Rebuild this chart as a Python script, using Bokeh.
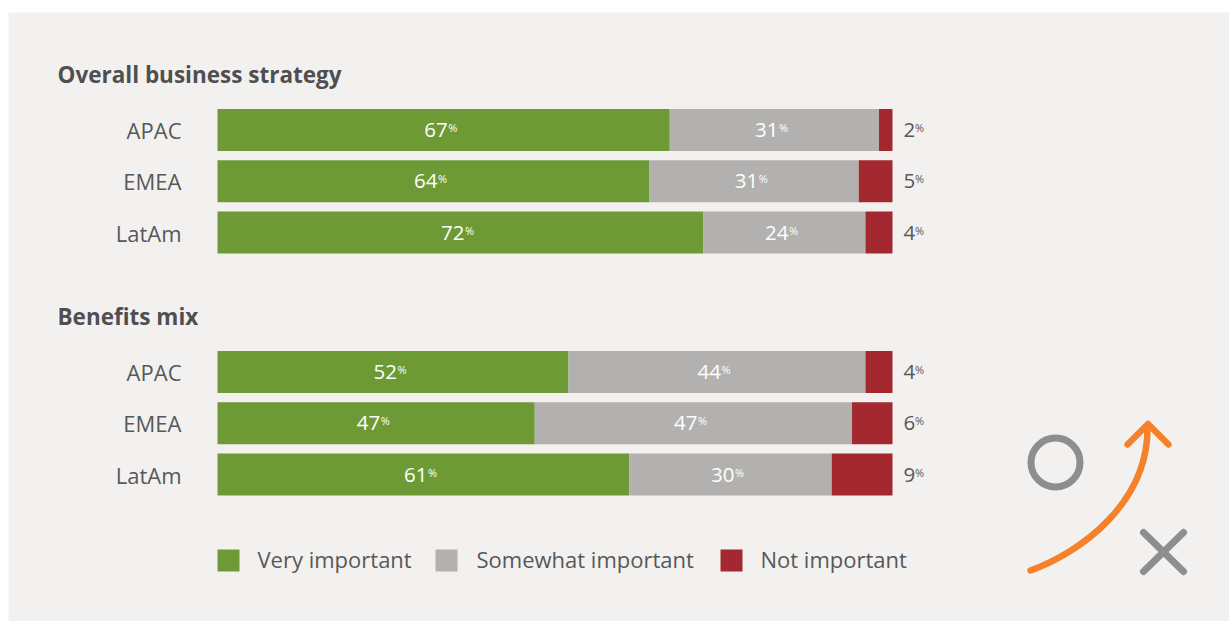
from bokeh.plotting import figure
from bokeh.models import Range1d, ColumnDataSource
from bokeh.core.properties import value
from bokeh.embed import file_html
from bokeh.resources import INLINE
import numpy as np

# ---------------- data ----------------
regions = ["APAC", "EMEA", "LatAm"]
group_titles = ["Overall business strategy", "Benefits mix"]
series_names = ["Very important", "Somewhat important", "Not important"]
strategy_very = [67, 64, 72]
strategy_somewhat = [31, 31, 24]
strategy_not = [2, 5, 4]
benefits_very = [52, 47, 61]
benefits_somewhat = [44, 47, 30]
benefits_not = [4, 6, 9]

groups = [
    (strategy_very, strategy_somewhat, strategy_not),
    (benefits_very, benefits_somewhat, benefits_not),
]

# ---------------- style ----------------
W, H = 1229, 621
PANEL_LEFT, PANEL_TOP = 8, 12
BAR_X0, BAR_X1 = 217, 892          # page px for 0% and 100%
SCALE = (BAR_X1 - BAR_X0) / 100.0
colors = ["#6e9a35", "#b2b1af", "#a3282f"]
bg = "#f2f1ef"
text_dark = "#58585a"
title_col = "#4f4f52"
FONT = value("Open Sans")


def px_x(v):
    return (v - BAR_X0) / SCALE


p = figure(width=W, height=H, output_backend="svg", toolbar_location=None,
           x_range=Range1d(px_x(PANEL_LEFT), px_x(W)),
           y_range=Range1d(H, PANEL_TOP),
           min_border_left=PANEL_LEFT, min_border_top=PANEL_TOP,
           min_border_right=0, min_border_bottom=0)
p.axis.visible = False
p.grid.visible = False
p.outline_line_color = None
p.background_fill_color = bg
p.border_fill_color = "white"

GROUP_TOP = [74, 316]
ROW_START = 55.5
ROW_PITCH = 51.25
BAR_H = 42

for g, (very, some, notimp) in enumerate(groups):
    ty = GROUP_TOP[g]
    p.text(x=[px_x(57)], y=[ty], text=[group_titles[g]], text_font=FONT,
           text_font_size="22.5px", text_font_style="bold", text_color=title_col,
           text_align="left", text_baseline="middle")
    ys = [ty + ROW_START + i * ROW_PITCH for i in range(len(regions))]
    v = np.array(very); s = np.array(some); n = np.array(notimp)
    lefts = [np.zeros(3), v, v + s]
    rights = [v, v + s, v + s + n]
    for k in range(3):
        src = ColumnDataSource(dict(y=ys, left=lefts[k], right=rights[k]))
        p.hbar(y="y", left="left", right="right", height=BAR_H, source=src,
               fill_color=colors[k], line_color=None)
    # category labels
    p.text(x=[px_x(181)] * 3, y=ys, text=regions, text_font=FONT,
           text_font_size="22px", text_color=text_dark,
           text_align="right", text_baseline="middle")
    # inside labels (green & gray)
    for k, vals in enumerate([v, s]):
        centers = (lefts[k] + rights[k]) / 2.0
        p.text(x=centers, y=ys, text=[str(x) for x in vals],
               text_font=FONT, text_font_size="20.5px", text_color="white",
               text_align="right", text_baseline="middle", x_offset=4)
        p.text(x=centers, y=ys, text=["%"] * 3, text_font=FONT,
               text_font_size="11px", text_color="white",
               text_align="left", text_baseline="top", x_offset=4.5, y_offset=-10)
    # outside labels (not important)
    p.text(x=[px_x(903)] * 3, y=ys, text=[str(x) for x in n],
           text_font=FONT, text_font_size="20.5px", text_color=text_dark,
           text_align="left", text_baseline="middle")
    p.text(x=[px_x(903)] * 3, y=ys, text=["%"] * 3, text_font=FONT,
           text_font_size="11px", text_color=text_dark,
           text_align="left", text_baseline="top", x_offset=11.5, y_offset=-10)

# legend
leg_sq_x = [228, 446, 731]
leg_tx_x = [257, 476, 760]
LEG_Y = 560
p.scatter(x=[px_x(v) for v in leg_sq_x], y=[LEG_Y] * 3, marker="square",
          size=22, fill_color=colors, line_color=None)
p.text(x=[px_x(v) for v in leg_tx_x], y=[LEG_Y - 1.5] * 3, text=series_names,
       text_font=FONT, text_font_size="22px", text_color=text_dark,
       text_align="left", text_baseline="middle")

# decorative icon
icon_gray = "#8e8e90"
orange = "#f5822a"
p.scatter(x=[px_x(1055)], y=[462], marker="circle", size=49,
          fill_alpha=0, line_color=icon_gray, line_width=7)
for (xa, ya, xb, yb) in [(1143, 532, 1183, 571), (1183, 532, 1143, 571)]:
    p.line(x=[px_x(xa), px_x(xb)], y=[ya, yb], line_color=icon_gray,
           line_width=7, line_cap="round")
p.bezier(x0=[px_x(1030)], y0=[570], x1=[px_x(1147)], y1=[428],
         cx0=[px_x(1080)], cy0=[552], cx1=[px_x(1147)], cy1=[503],
         line_color=orange, line_width=6.5, line_cap="round")
p.line(x=[px_x(1127), px_x(1147.5), px_x(1168)], y=[444, 423.5, 444],
       line_color=orange, line_width=6.5, line_cap="round", line_join="round")

open("out.html", "w").write(file_html(p, INLINE))
